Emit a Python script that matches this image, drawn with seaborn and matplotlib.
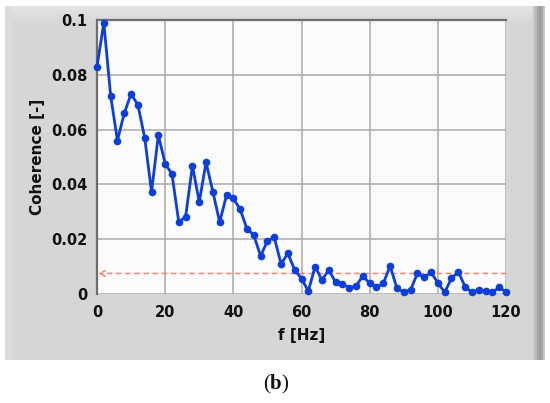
import matplotlib
matplotlib.use("Agg")
import matplotlib.pyplot as plt
from matplotlib.patches import Rectangle
import seaborn as sns
import pandas as pd

# ---- data ----
freq_hz = [0, 2, 4, 6, 8, 10, 12, 14, 16, 18, 20, 22, 24, 26, 28, 30, 32, 34, 36, 38,
           40, 42, 44, 46, 48, 50, 52, 54, 56, 58, 60, 62, 64, 66, 68, 70, 72, 74, 76, 78,
           80, 82, 84, 86, 88, 90, 92, 94, 96, 98, 100, 102, 104, 106, 108, 110, 112, 114,
           116, 118, 120]
coherence = [0.083, 0.099, 0.0724, 0.056, 0.066, 0.073, 0.069, 0.057, 0.0372, 0.058,
             0.0476, 0.0437, 0.0262, 0.0282, 0.0468, 0.0336, 0.048, 0.0373, 0.0262, 0.0361,
             0.0349, 0.0309, 0.0238, 0.0215, 0.0139, 0.0193, 0.0207, 0.011, 0.0148, 0.0088,
             0.0056, 0.0011, 0.0100, 0.0051, 0.0088, 0.0043, 0.0036, 0.0023, 0.0029, 0.0066,
             0.0039, 0.0024, 0.0039, 0.0102, 0.0021, 0.0007, 0.0015, 0.0075, 0.0061, 0.0079,
             0.0041, 0.0006, 0.0057, 0.0081, 0.0027, 0.0006, 0.0015, 0.0012, 0.0006, 0.0024,
             0.0008]
threshold = 0.0075
x_ticks = [0, 20, 40, 60, 80, 100, 120]
y_ticks = [0, 0.02, 0.04, 0.06, 0.08, 0.1]
y_tick_labels = ["0", "0.02", "0.04", "0.06", "0.08", "0.1"]
x_label = "f [Hz]"
y_label = "Coherence [-]"
caption = "b"

df = pd.DataFrame({"f": freq_hz, "coh": coherence})

sns.set_style("white")
plt.rcParams["font.family"] = ["DejaVu Sans"]
plt.rcParams["mathtext.fontset"] = "custom"
plt.rcParams["mathtext.rm"] = "Liberation Serif"
plt.rcParams["mathtext.bf"] = "Liberation Serif:bold"

W, H = 550, 403
fig = plt.figure(figsize=(W / 100, H / 100), dpi=100)
fig.patch.set_facecolor("white")

def fr(x0, y0, x1, y1):
    """pixel box (top-left origin) -> figure fraction rect"""
    return (x0 / W, 1 - y1 / H, (x1 - x0) / W, (y1 - y0) / H)

def panel_rect(box, color):
    x, y, w, h = fr(*box)
    fig.patches.append(Rectangle((x, y), w, h, transform=fig.transFigure,
                                 facecolor=color, edgecolor="none", zorder=-5))

# grey LabVIEW-like panel, soft lighter top and darker right shadow
panel_rect((5, 6, 533, 360), "#d6d6d6")
for i, c in enumerate(["#e2e2e2", "#dfdfdf", "#dcdcdc", "#d9d9d9"]):
    panel_rect((5, 6 + 4 * i, 533, 10 + 4 * i), c)
panel_rect((5, 6, 12, 360), "#dcdcdc")
for i, c in enumerate(["#c8c8c8", "#b8b8b8", "#a8a8a8", "#9a9a9a", "#a6a6a6", "#c4c4c4"]):
    panel_rect((533 + 2 * i, 6, 535 + 2 * i, 360), c)

ax = fig.add_axes(fr(97, 20, 506, 294))
ax.set_zorder(2)
ax.set_facecolor("#fbfbfb")

sns.lineplot(data=df, x="f", y="coh", ax=ax, color="#0c3edc", linewidth=2.0,
             marker="o", markersize=5.5, markeredgewidth=0, zorder=3, clip_on=False)

ax.annotate("", xy=(0.3, threshold), xytext=(120, threshold),
            arrowprops=dict(arrowstyle="->", color="#f28474", lw=1.1,
                            linestyle=(0, (3, 3)), shrinkA=0, shrinkB=0),
            zorder=2)

ax.set_xlim(0, 120)
ax.set_ylim(0, 0.1)
ax.set_xticks(x_ticks)
ax.set_yticks(y_ticks)
ax.set_yticklabels(y_tick_labels)
ax.grid(True, color="#a9a9a9", linewidth=1.1)
ax.set_axisbelow(True)

for s in ["right", "bottom"]:
    ax.spines[s].set_visible(False)
for s in ["left", "top"]:
    ax.spines[s].set_visible(True)
    ax.spines[s].set_color("#6e6e6e")
    ax.spines[s].set_linewidth(1.6)

ax.tick_params(axis="both", which="both", direction="out", colors="#222222",
               labelsize=10.5, length=5, width=1.2)
ax.tick_params(axis="x", pad=3)
ax.tick_params(axis="y", pad=2)
for lab in ax.get_xticklabels() + ax.get_yticklabels():
    lab.set_fontweight("bold")
    lab.set_color("#111111")

ax.set_xlabel(x_label, fontsize=11, fontweight="bold", color="#111111", labelpad=6)
ax.set_ylabel(y_label, fontsize=11, fontweight="bold", color="#111111", labelpad=4)

fig.text(276 / W, 1 - 384 / H, r"$(\mathbf{" + caption + r"})$", ha="center", va="center",
         fontsize=15, color="#111111")

fig.savefig("out.png", dpi=100)
